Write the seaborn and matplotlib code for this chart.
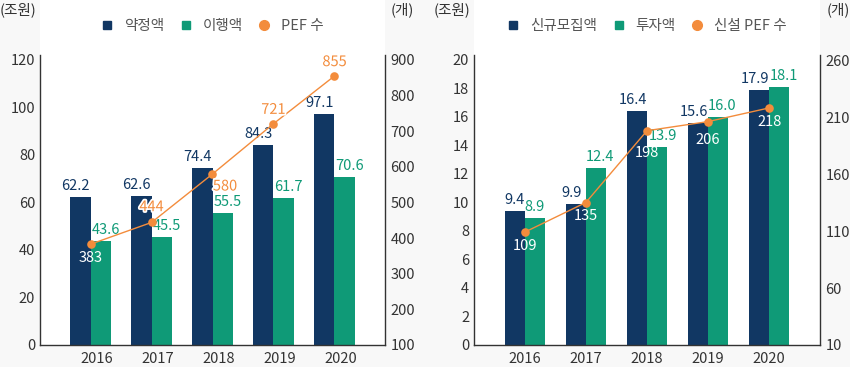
import numpy as np
import pandas as pd
import seaborn as sns
import matplotlib
matplotlib.use('Agg')
import matplotlib.pyplot as plt
import matplotlib.patheffects as pe
from matplotlib.lines import Line2D
from matplotlib.patches import Rectangle
from matplotlib.transforms import ScaledTranslation

# data
years = ['2016', '2017', '2018', '2019', '2020']

commit_amt = [62.2, 62.6, 74.4, 84.3, 97.1]     # 약정액 (조원)
exec_amt = [43.6, 45.5, 55.5, 61.7, 70.6]       # 이행액 (조원)
pef_count = [383, 444, 580, 721, 855]           # PEF 수 (개)

new_raise = [9.4, 9.9, 16.4, 15.6, 17.9]        # 신규모집액 (조원)
invest_amt = [8.9, 12.4, 13.9, 16.0, 18.1]      # 투자액 (조원)
new_pef = [109, 135, 198, 206, 218]             # 신설 PEF 수 (개)

NAVY = '#113763'
GREEN = '#0f9a77'
ORANGE = '#f38c3c'
TXT = '#333333'
FS = 10.5

sns.set_theme(style='white')
plt.rcParams['font.family'] = ['Noto Sans CJK KR', 'DejaVu Sans']
plt.rcParams['font.size'] = FS
plt.rcParams['axes.unicode_minus'] = False

W, H = 850, 367
fig = plt.figure(figsize=(8.5, 3.67), dpi=100, facecolor='#f8f8f8')


def px(x0, y0, x1, y1):
    # pixel box -> figure fraction [left, bottom, width, height]
    return [x0 / W, 1 - y1 / H, (x1 - x0) / W, (y1 - y0) / H]


def draw_panel(box, s1, s2, line, names, ylim, yticks, y2lim, y2ticks,
               bar_dx, pt_styles, year_dx):
    x0, y0, x1, y1 = box
    # white panel behind axes incl. legend area
    fig.patches.append(Rectangle((x0 / W, 1 - y1 / H), (x1 - x0) / W, y1 / H,
                                 transform=fig.transFigure, facecolor='white',
                                 edgecolor='none', zorder=-5))
    ax = fig.add_axes(px(x0, 55, x1, y1))
    ax.set_facecolor('white')

    df = pd.DataFrame({'year': years * 2,
                       'value': s1 + s2,
                       'kind': [names[0]] * 5 + [names[1]] * 5})
    sns.barplot(data=df, x='year', y='value', hue='kind', ax=ax,
                palette=[NAVY, GREEN], width=0.66, saturation=1, gap=0,
                linewidth=0, edgecolor='none', legend=False)
    ax.set_xlim(-0.83, 4.83)
    ax.set_ylim(*ylim)
    ax.set_yticks(yticks)
    ax.set_xlabel('')
    ax.set_ylabel('')
    for s in ['top', 'right']:
        ax.spines[s].set_visible(False)
    for s in ['left', 'bottom']:
        ax.spines[s].set_color(TXT)
        ax.spines[s].set_linewidth(1)
    ax.tick_params(axis='y', length=0, pad=3.5, labelsize=FS, labelcolor=TXT)
    ax.tick_params(axis='x', length=0, pad=5, labelsize=FS, labelcolor=TXT)
    for lab in ax.get_xticklabels():
        lab.set_transform(lab.get_transform() +
                          ScaledTranslation(year_dx / 100, 0, fig.dpi_scale_trans))

    # bar value labels
    bw = 0.33
    for i in range(5):
        ax.annotate(f'{s1[i]:.1f}', (i - bw / 2, s1[i]), xytext=(bar_dx[0][i], 3),
                    textcoords='offset points', ha='center', va='bottom',
                    color=NAVY, fontsize=FS)
        ax.annotate(f'{s2[i]:.1f}', (i + bw / 2, s2[i]), xytext=(bar_dx[1][i], 3),
                    textcoords='offset points', ha='center', va='bottom',
                    color=GREEN, fontsize=FS)

    ax2 = ax.twinx()
    sns.lineplot(x=np.arange(5), y=line, ax=ax2, color=ORANGE, linewidth=1,
                 marker='o', markersize=6.2, markeredgewidth=0)
    ax2.set_ylim(*y2lim)
    ax2.set_yticks(y2ticks)
    ax2.set_ylabel('')
    for s in ['top', 'left', 'bottom']:
        ax2.spines[s].set_visible(False)
    ax2.spines['right'].set_color(TXT)
    ax2.spines['right'].set_linewidth(1)
    ax2.tick_params(axis='y', length=0, pad=4, labelsize=FS, labelcolor=TXT)

    for i, (dx, dy, col) in enumerate(pt_styles):
        t = ax2.annotate(str(line[i]), (i, line[i]), xytext=(dx, dy),
                         textcoords='offset points', ha='center', va='center',
                         color=col, fontsize=FS)
        if col == ORANGE:
            t.set_path_effects([pe.withStroke(linewidth=2.5, foreground='white')])

    # legend
    handles = [Line2D([], [], ls='', marker='s', ms=6, color=NAVY),
               Line2D([], [], ls='', marker='s', ms=6, color=GREEN),
               Line2D([], [], ls='', marker='o', ms=7, color=ORANGE)]
    leg = fig.legend(handles, names, loc='center', ncol=3, frameon=False,
                     bbox_to_anchor=((x0 + x1) / 2 / W, 1 - 26 / H),
                     handlelength=0.8, handletextpad=0.75, columnspacing=1.1,
                     fontsize=FS)
    for t in leg.get_texts():
        t.set_color('#555555')
    return ax, ax2


# left panel
draw_panel((40, 0, 385, 345), commit_amt, exec_amt, pef_count,
           ['약정액', '이행액', 'PEF 수'],
           (0, 122.1), [0, 20, 40, 60, 80, 100, 120],
           (100, 914), [100, 200, 300, 400, 500, 600, 700, 800, 900],
           [[-3.5] * 5, [3.5] * 5],
           [(0, -10, 'white'), (0, 11, ORANGE), (9, -9, ORANGE),
            (0, 10, ORANGE), (0, 10, ORANGE)],
           year_dx=6)

# right panel
draw_panel((474, 0, 820, 345), new_raise, invest_amt, new_pef,
           ['신규모집액', '투자액', '신설 PEF 수'],
           (0, 20.35), list(range(0, 21, 2)),
           (10, 264.4), [10, 60, 110, 160, 210, 260],
           [[0, -3, -3, -3, -3], [0, 3, 4.5, 3, 3]],
           [(0, -10, 'white'), (0, -10, 'white'), (0, -16, 'white'),
            (0, -13, 'white'), (0, -10, 'white')],
           year_dx=0)

# unit labels
fig.text(0 / W, 1 - 10 / H, '(조원)', ha='left', va='center', color=TXT, fontsize=FS)
fig.text(391 / W, 1 - 10 / H, '(개)', ha='left', va='center', color=TXT, fontsize=FS)
fig.text(470 / W, 1 - 10 / H, '(조원)', ha='right', va='center', color=TXT, fontsize=FS)
fig.text(827 / W, 1 - 10 / H, '(개)', ha='left', va='center', color=TXT, fontsize=FS)

fig.savefig('out.png', dpi=100, facecolor=fig.get_facecolor())
